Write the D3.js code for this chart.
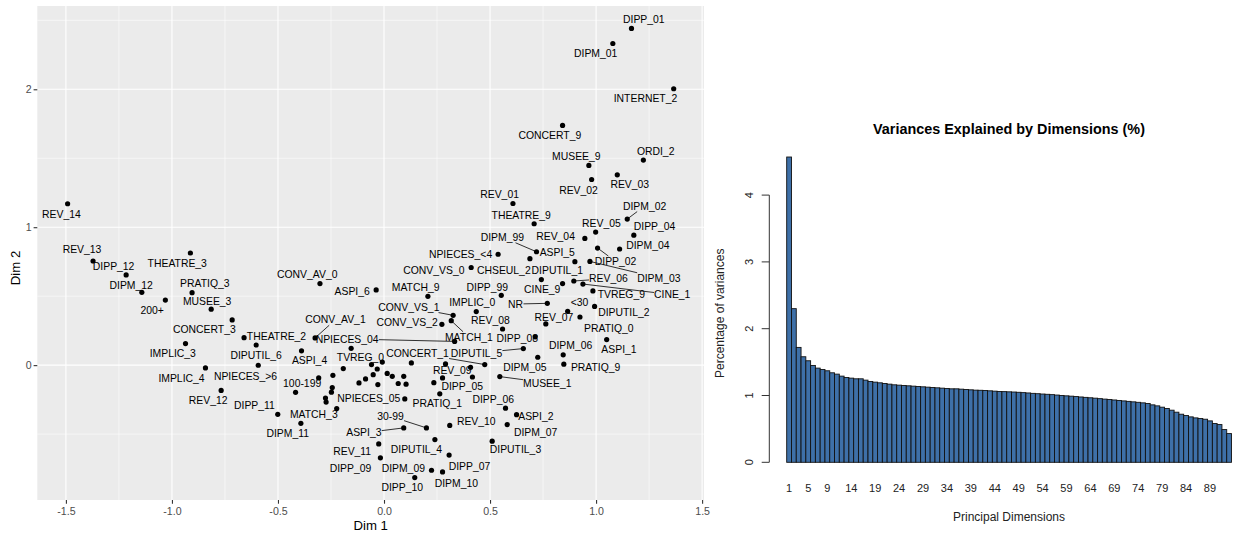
<!DOCTYPE html>
<html>
<head>
<meta charset="utf-8">
<script src="https://cdn.jsdelivr.net/npm/d3@7/dist/d3.min.js"></script>
<style>
body { margin: 0; background: #fff; }
text { font-family: "Liberation Sans", Arial, Helvetica, sans-serif; }
</style>
</head>
<body>
<svg id="chart" width="1242" height="533"></svg>
<script>
// MCA category coordinates: [name, dim1, dim2, label dim1, label dim2]
// label positions are where the repel step left each text, in data units
var categories = [
  ["DIPP_01",1.167,2.441,1.225,2.509],
  ["DIPM_01",1.079,2.332,0.998,2.257],
  ["INTERNET_2",1.366,2.004,1.233,1.931],
  ["CONCERT_9",0.842,1.738,0.782,1.668],
  ["MUSEE_9",0.966,1.448,0.907,1.513],
  ["ORDI_2",1.223,1.487,1.281,1.549],
  ["REV_02",0.979,1.346,0.917,1.270],
  ["REV_03",1.100,1.380,1.159,1.308],
  ["REV_01",0.608,1.172,0.545,1.241],
  ["THEATRE_9",0.708,1.025,0.647,1.088],
  ["DIPM_02",1.147,1.059,1.229,1.154],
  ["REV_05",0.998,0.965,1.025,1.030],
  ["DIPP_04",1.178,0.942,1.276,1.005],
  ["REV_04",0.947,0.919,0.809,0.931],
  ["DIPM_99",0.719,0.822,0.558,0.928],
  ["DIPM_04",1.111,0.842,1.244,0.868],
  ["DIPP_02",1.007,0.849,1.092,0.752],
  ["ASPI_5",0.900,0.750,0.817,0.815],
  ["CHSEUL_2",0.688,0.772,0.565,0.685],
  ["DIPM_03",0.971,0.752,1.296,0.632],
  ["DIPUTIL_1",0.742,0.620,0.817,0.690],
  ["CINE_9",0.842,0.591,0.746,0.553],
  ["REV_06",0.895,0.610,1.058,0.627],
  ["CINE_1",0.938,0.588,1.359,0.511],
  ["TVREG_9",0.985,0.538,1.119,0.511],
  ["DIPUTIL_2",0.993,0.426,1.131,0.383],
  ["<30",0.866,0.390,0.922,0.458],
  ["REV_07",0.763,0.299,0.801,0.349],
  ["PRATIQ_0",0.924,0.349,1.060,0.264],
  ["ASPI_1",1.050,0.185,1.108,0.112],
  ["MATCH_9",0.207,0.499,0.149,0.564],
  ["DIPP_99",0.553,0.506,0.487,0.567],
  ["NR",0.770,0.448,0.620,0.443],
  ["IMPLIC_0",0.435,0.388,0.416,0.455],
  ["CONV_VS_1",0.326,0.361,0.117,0.422],
  ["MATCH_1",0.317,0.322,0.400,0.203],
  ["CONV_VS_2",0.273,0.296,0.109,0.310],
  ["REV_08",0.559,0.262,0.502,0.324],
  ["DIPP_08",0.713,0.205,0.628,0.192],
  ["NPIECES_04",0.333,0.172,-0.174,0.190],
  ["DIPUTIL_5",0.657,0.120,0.436,0.087],
  ["DIPM_05",0.725,0.057,0.664,-0.013],
  ["DIPM_06",0.845,0.075,0.880,0.143],
  ["PRATIQ_9",0.848,0.007,0.998,-0.013],
  ["CONCERT_1",0.475,0.004,0.158,0.087],
  ["MUSEE_1",0.546,-0.083,0.770,-0.129],
  ["DIPP_06",0.573,-0.312,0.515,-0.250],
  ["ASPI_2",0.625,-0.359,0.716,-0.371],
  ["DIPM_07",0.581,-0.431,0.715,-0.491],
  ["REV_10",0.310,-0.437,0.435,-0.407],
  ["30-99",0.200,-0.455,0.031,-0.371],
  ["ASPI_3",0.093,-0.455,-0.095,-0.491],
  ["DIPUTIL_4",0.240,-0.540,0.153,-0.612],
  ["DIPUTIL_3",0.510,-0.551,0.620,-0.612],
  ["DIPP_07",0.307,-0.652,0.403,-0.733],
  ["DIPM_09",0.224,-0.762,0.091,-0.750],
  ["DIPM_10",0.276,-0.774,0.341,-0.854],
  ["DIPP_10",0.145,-0.815,0.086,-0.886],
  ["DIPP_09",-0.017,-0.672,-0.158,-0.745],
  ["REV_11",-0.025,-0.571,-0.150,-0.625],
  ["NPIECES_<4",0.538,0.804,0.361,0.806],
  ["CONV_VS_0",0.411,0.708,0.235,0.685],
  ["CONV_AV_0",-0.302,0.591,-0.362,0.656],
  ["ASPI_6",-0.037,0.545,-0.150,0.535],
  ["CONV_AV_1",-0.325,0.197,-0.229,0.330],
  ["ASPI_4",-0.389,0.104,-0.351,0.035],
  ["TVREG_0",-0.059,0.004,-0.111,0.057],
  ["100-199",-0.417,-0.197,-0.386,-0.134],
  ["NPIECES_05",0.098,-0.245,-0.072,-0.243],
  ["MATCH_3",-0.223,-0.315,-0.331,-0.357],
  ["DIPM_11",-0.392,-0.422,-0.454,-0.496],
  ["DIPP_11",-0.501,-0.357,-0.611,-0.291],
  ["REV_12",-0.768,-0.183,-0.829,-0.257],
  ["IMPLIC_4",-0.842,-0.020,-0.955,-0.093],
  ["NPIECES_>6",-0.593,-0.001,-0.653,-0.081],
  ["DIPUTIL_6",-0.603,0.146,-0.603,0.071],
  ["IMPLIC_3",-0.936,0.156,-0.996,0.083],
  ["THEATRE_2",-0.660,0.199,-0.507,0.209],
  ["CONCERT_3",-0.716,0.328,-0.847,0.257],
  ["MUSEE_3",-0.815,0.406,-0.834,0.462],
  ["200+",-1.031,0.472,-1.093,0.395],
  ["PRATIQ_3",-0.905,0.525,-0.845,0.591],
  ["DIPM_12",-1.142,0.528,-1.192,0.578],
  ["DIPP_12",-1.216,0.654,-1.275,0.716],
  ["REV_13",-1.372,0.755,-1.424,0.837],
  ["THEATRE_3",-0.913,0.813,-0.975,0.741],
  ["REV_14",-1.492,1.170,-1.521,1.096],
  ["PRATIQ_1",0.263,-0.208,0.251,-0.274],
  ["DIPP_05",0.276,-0.093,0.369,-0.154],
  ["REV_09",0.290,0.009,0.322,-0.040]
];

// categories whose labels were dropped (too crowded near the origin)
var unlabelled = [
  [-0.155,0.122],[-0.192,-0.025],[-0.241,-0.074],[-0.308,-0.093],
  [-0.244,-0.163],[-0.248,-0.196],[-0.276,-0.239],[-0.273,-0.268],
  [-0.118,-0.129],[-0.087,-0.100],[-0.051,-0.069],[-0.032,-0.028],
  [-0.008,0.022],[0.015,-0.060],[0.039,-0.081],[0.093,-0.081],
  [0.067,-0.133],[0.104,-0.138],[-0.029,-0.141],[0.129,0.016],
  [0.235,-0.127],[0.408,-0.016],[0.417,-0.086]
];

// labels pushed far enough to get a leader segment
var segmentNames = ["DIPM_02","DIPM_99","DIPP_02","DIPM_03","REV_06","CINE_1","NR",
  "CONV_VS_1","MATCH_1","NPIECES_04","DIPUTIL_5","CONCERT_1","MUSEE_1","30-99",
  "ASPI_3","CONV_AV_1"];

var xMajor = [-1.5,-1.0,-0.5,0.0,0.5,1.0,1.5];
var xMinor = [-1.25,-0.75,-0.25,0.25,0.75,1.25];
var yMajor = [0,1,2];
var yMinor = [-0.5,0.5,1.5,2.5];

// percentage of variance for each principal dimension
var variances = [4.57,2.30,1.72,1.58,1.52,1.45,1.41,1.39,1.37,1.34,
  1.32,1.29,1.27,1.26,1.25,1.25,1.23,1.21,1.20,1.19,
  1.18,1.17,1.16,1.155,1.15,1.145,1.14,1.135,1.13,1.125,
  1.12,1.115,1.11,1.105,1.10,1.10,1.095,1.09,1.085,1.08,
  1.078,1.075,1.07,1.065,1.06,1.058,1.055,1.052,1.048,1.043,
  1.038,1.032,1.027,1.022,1.018,1.013,1.007,1.00,0.995,0.99,
  0.984,0.978,0.972,0.966,0.96,0.953,0.946,0.94,0.933,0.926,
  0.919,0.912,0.905,0.898,0.89,0.88,0.86,0.845,0.825,0.805,
  0.78,0.75,0.72,0.70,0.68,0.665,0.655,0.645,0.62,0.58,
  0.565,0.49,0.43];
var barTickLabels = [1,5,9,14,19,24,29,34,39,44,49,54,59,64,69,74,79,84,89];
var varTicks = [0,1,2,3,4];

var svg = d3.select("#chart");

// ---------- left: MCA factor map (ggplot look) ----------
var panel = {left: 37.3, right: 704, top: 6, bottom: 500};

var allX = categories.map(d => d[1]).concat(unlabelled.map(d => d[0]));
var allY = categories.map(d => d[2]).concat(unlabelled.map(d => d[1]));
var xe = d3.extent(allX), ye = d3.extent(allY);
var xPad = (xe[1] - xe[0]) * 0.05, yPad = (ye[1] - ye[0]) * 0.05;

var x = d3.scaleLinear().domain([xe[0] - xPad, xe[1] + xPad]).range([panel.left, panel.right]);
var y = d3.scaleLinear().domain([ye[0] - yPad, ye[1] + yPad]).range([panel.bottom, panel.top]);

var left = svg.append("g");

left.append("rect")
    .attr("x", panel.left).attr("y", panel.top)
    .attr("width", panel.right - panel.left)
    .attr("height", panel.bottom - panel.top)
    .attr("fill", "#EBEBEB");

var grid = left.append("g").attr("stroke", "#fff");
grid.selectAll("line.xmin").data(xMinor).enter().append("line")
    .attr("x1", d => x(d)).attr("x2", d => x(d))
    .attr("y1", panel.top).attr("y2", panel.bottom).attr("stroke-width", 0.55);
grid.selectAll("line.ymin").data(yMinor).enter().append("line")
    .attr("y1", d => y(d)).attr("y2", d => y(d))
    .attr("x1", panel.left).attr("x2", panel.right).attr("stroke-width", 0.55);
grid.selectAll("line.xmaj").data(xMajor).enter().append("line")
    .attr("x1", d => x(d)).attr("x2", d => x(d))
    .attr("y1", panel.top).attr("y2", panel.bottom).attr("stroke-width", 1.1);
grid.selectAll("line.ymaj").data(yMajor).enter().append("line")
    .attr("y1", d => y(d)).attr("y2", d => y(d))
    .attr("x1", panel.left).attr("x2", panel.right).attr("stroke-width", 1.1);

// axes
var xAxis = left.append("g")
    .attr("transform", "translate(0," + panel.bottom + ")")
    .call(d3.axisBottom(x).tickValues(xMajor).tickSize(3.7).tickPadding(4)
        .tickFormat(d => d.toFixed(1)));
var yAxis = left.append("g")
    .attr("transform", "translate(" + panel.left + ",0)")
    .call(d3.axisLeft(y).tickValues(yMajor).tickSize(3.7).tickPadding(2)
        .tickFormat(d => String(d)));
[xAxis, yAxis].forEach(function(a) {
    a.select(".domain").remove();
    a.selectAll(".tick line").attr("stroke", "#333").attr("stroke-width", 1.1);
    a.selectAll(".tick text").attr("fill", "#4D4D4D").style("font-size", "10.6px");
});

left.append("text")
    .attr("x", (panel.left + panel.right) / 2).attr("y", 525)
    .attr("text-anchor", "middle").attr("dy", "0.35em")
    .style("font-size", "13.2px").attr("fill", "#000")
    .text("Dim 1");
left.append("text")
    .attr("transform", "translate(15,268) rotate(-90)")
    .attr("text-anchor", "middle").attr("dy", "0.35em")
    .style("font-size", "13.2px").attr("fill", "#000")
    .text("Dim 2");

// labels first (needed for segment clipping)
var labelG = left.append("g");
var labels = labelG.selectAll("text").data(categories).enter().append("text")
    .attr("x", d => x(d[3])).attr("y", d => y(d[4]))
    .attr("dy", "0.35em").attr("text-anchor", "middle")
    .style("font-size", "10.4px").attr("fill", "#000")
    .text(d => d[0]);

var boxes = {};
labels.each(function(d) { boxes[d[0]] = this.getBBox(); });

function clipToBox(px, py, cx, cy, b) {
    var dx = cx - px, dy = cy - py, tEnter = 0;
    [[dx, px, b.x, b.x + b.width], [dy, py, b.y, b.y + b.height]].forEach(function(s) {
        if (s[0] !== 0) {
            var t1 = (s[2] - s[1]) / s[0], t2 = (s[3] - s[1]) / s[0];
            tEnter = Math.max(tEnter, Math.min(t1, t2));
        }
    });
    return [px + dx * tEnter, py + dy * tEnter];
}

var segData = categories.filter(d => segmentNames.indexOf(d[0]) >= 0);
left.append("g").selectAll("line").data(segData).enter().append("line")
    .each(function(d) {
        var px = x(d[1]), py = y(d[2]);
        var end = clipToBox(px, py, x(d[3]), y(d[4]), boxes[d[0]]);
        d3.select(this).attr("x1", px).attr("y1", py).attr("x2", end[0]).attr("y2", end[1]);
    })
    .attr("stroke", "#000").attr("stroke-width", 0.8);

var dots = left.append("g");
dots.selectAll("circle.lab").data(categories).enter().append("circle")
    .attr("cx", d => x(d[1])).attr("cy", d => y(d[2])).attr("r", 2.6).attr("fill", "#000");
dots.selectAll("circle.unl").data(unlabelled).enter().append("circle")
    .attr("cx", d => x(d[0])).attr("cy", d => y(d[1])).attr("r", 2.6).attr("fill", "#000");

// ---------- right: scree barplot (base R look) ----------
var bx = d3.scaleBand().domain(d3.range(1, variances.length + 1))
    .range([786.7, 1231.5]).padding(0);
var by = d3.scaleLinear().domain([0, 4]).range([462.3, 195.1]);

var right = svg.append("g");

right.append("g").selectAll("rect").data(variances).enter().append("rect")
    .attr("x", (d, i) => bx(i + 1))
    .attr("y", d => by(d))
    .attr("width", bx.bandwidth())
    .attr("height", d => by(0) - by(d))
    .attr("fill", "#3E70A8")
    .attr("stroke", "#111").attr("stroke-width", 0.9);

var axX = 769.3;
right.append("line")
    .attr("x1", axX).attr("x2", axX)
    .attr("y1", by(varTicks[0])).attr("y2", by(varTicks[varTicks.length - 1]))
    .attr("stroke", "#333").attr("stroke-width", 1);
right.selectAll("line.vt").data(varTicks).enter().append("line")
    .attr("x1", axX - 7.6).attr("x2", axX)
    .attr("y1", d => by(d)).attr("y2", d => by(d))
    .attr("stroke", "#333").attr("stroke-width", 1);
right.selectAll("text.vt").data(varTicks).enter().append("text")
    .attr("transform", d => "translate(749.3," + by(d) + ") rotate(-90)")
    .attr("text-anchor", "middle").attr("dy", "0.35em")
    .style("font-size", "11px").attr("fill", "#222")
    .text(d => d);

right.selectAll("text.bt").data(barTickLabels).enter().append("text")
    .attr("x", d => bx(d) + bx.bandwidth() / 2).attr("y", 487.7)
    .attr("text-anchor", "middle").attr("dy", "0.35em")
    .style("font-size", "11px").attr("fill", "#222")
    .text(d => d);

right.append("text")
    .attr("x", 1009).attr("y", 129).attr("dy", "0.35em")
    .attr("text-anchor", "middle")
    .style("font-size", "14.4px").style("font-weight", "bold").attr("fill", "#000")
    .text("Variances Explained by Dimensions (%)");
right.append("text")
    .attr("x", 1009).attr("y", 516.7).attr("dy", "0.35em")
    .attr("text-anchor", "middle")
    .style("font-size", "12px").attr("fill", "#222")
    .text("Principal Dimensions");
right.append("text")
    .attr("transform", "translate(719.3,313.3) rotate(-90)")
    .attr("text-anchor", "middle").attr("dy", "0.35em")
    .style("font-size", "12px").attr("fill", "#222")
    .text("Percentage of variances");
</script>
</body>
</html>
